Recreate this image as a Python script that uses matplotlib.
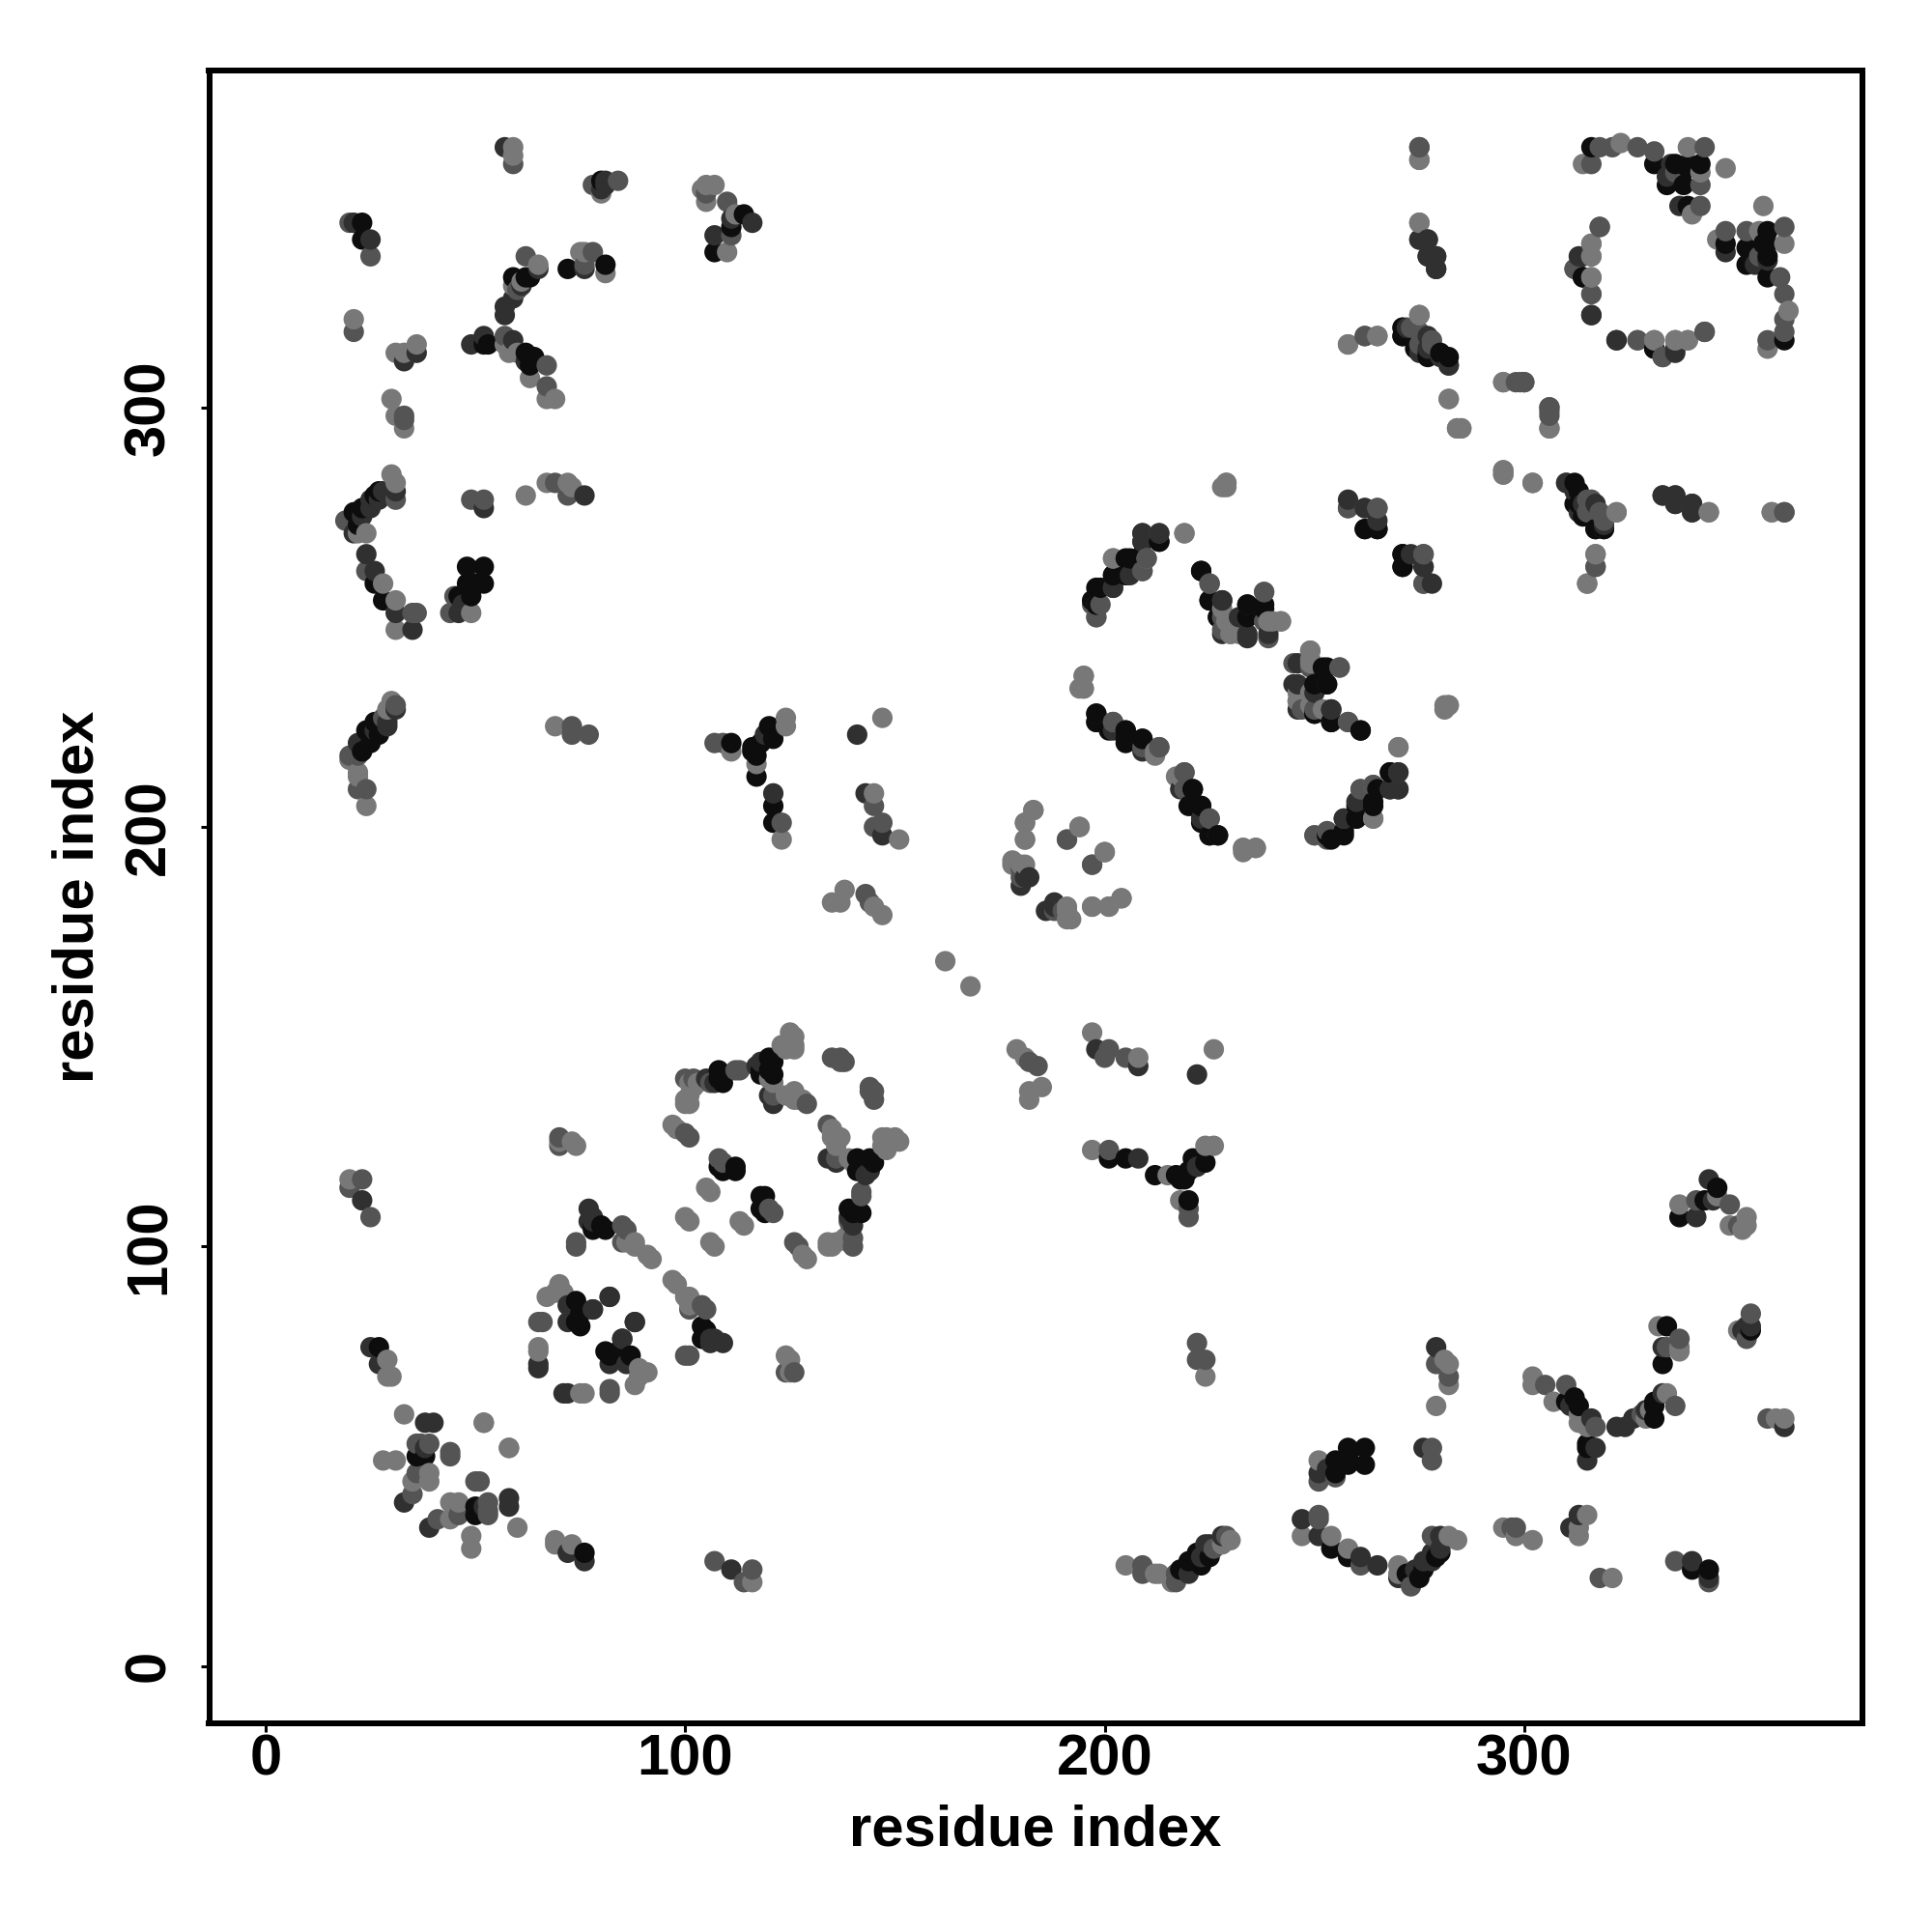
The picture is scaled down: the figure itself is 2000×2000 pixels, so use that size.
import numpy as np
import matplotlib
matplotlib.use("Agg")
import matplotlib.pyplot as plt

# residue contacts (i < j), grouped by grey shade; the map is symmetric
light_pairs = [(59,362),(59,360),(80,351),(105,353),(107,353),(104,352),(105,349),(112,346),(110,337),(21,321),(31,313),(33,313),(36,315),
 (57,315),(58,313),(60,313),(63,307),(67,302),(69,302),(65,334),(59,329),(61,330),(75,337),(76,337),(81,332),(30,302),(31,298),(33,295),
 (30,284),(31,282),(24,270),(22,270),(28,258),(31,254),(31,247),(49,251),(62,279),(67,282),(72,282),(73,281),(30,230),(29,228),(20,216),
 (22,213),(22,212),(24,205),(69,224),(111,218),(124,226),(124,224),(117,215),(123,197),(147,226),(145,208),(151,197),
 (323,363),(339,362),(348,357),(314,358),(342,356),(340,346),(316,339),(316,336),(316,331),(327,316),(331,316),(336,316),(339,316),
 (275,359),(275,344),(275,322),(258,315),(265,317),(282,302),(284,295),(285,295),(295,306),(306,295),(295,284),(295,285),(302,282),
 (322,275),(317,265),(315,258),(344,275),(359,275),(219,270),(229,281),(229,282),(202,264),(198,250),(238,256),(230,246),(229,249),
 (232,249),(239,249),(242,249),(249,242),(249,240),(246,232),(246,230),(252,228),(270,219),(282,229),(281,228),(195,236),(195,233),
 (212,217),(218,212),(233,194),(236,195),(233,195),(264,202),(264,210),(183,204),(181,201),(181,197),(194,200),(200,194),(197,191),
 (178,191),(181,191),(192,178),(191,180),(197,181),(201,181),(204,183),(135,182),(137,182),(138,185),(145,181),(147,179),(162,168),
 (126,150),(124,147),(126,147),(121,139),(103,139),(101,139),(101,136),(101,134),(98,128),(125,136),(127,135),(74,124),(135,128),(135,126),
 (137,126),(136,124),(148,126),(151,125),(148,123),(140,120),(106,113),(101,106),(114,105),(107,100),(129,97),(138,102),(135,100),(134,100),
 (86,101),(88,100),(92,97),(98,91),(101,88),(125,73),(125,70),(70,91),(67,88),(69,89),(71,89),(65,75),(65,76),(29,73),(29,69),(30,69),
 (33,60),(52,58),(58,52),(28,49),(31,49),(39,46),(35,44),(39,44),(20,116)]
mid_pairs = [(59,358),(78,353),(84,354),(110,349),(111,341),(105,351),(20,344),(25,336),(21,318),(57,317),(67,310),(67,305),(62,336),
 (60,328),(78,337),(76,334),(33,298),(33,297),(31,278),(19,273),(24,261),(35,251),(36,251),(45,255),(44,251),(49,278),(52,278),(69,282),
 (72,279),(31,229),(28,226),(20,217),(22,217),(22,209),(24,209),(73,224),(73,222),(77,222),(107,220),(109,220),(123,201),(145,205),
 (145,200),(147,201),(318,362),(321,362),(327,362),(331,361),(343,362),(316,358),(342,353),(342,348),(336,356),(318,343),(312,333),
 (316,327),(333,312),(343,318),(275,362),(262,317),(275,318),(275,315),(278,315),(299,306),(300,306),(306,300),(306,298),(310,282),
 (316,278),(319,273),(317,262),(340,275),(362,275),(258,276),(265,276),(276,265),(276,262),(276,258),(210,264),(209,261),(197,253),
 (199,253),(225,258),(228,250),(239,245),(256,238),(249,238),(247,228),(258,225),(202,225),(213,219),(219,213),(219,209),(225,202),
 (250,198),(257,202),(261,209),(270,213),(191,197),(180,188),(190,180),(143,184),(144,182),(101,126),(137,144),(138,144),(145,137),
 (145,135),(70,124),(109,120),(121,108),(127,100),(142,112),(140,102),(140,100),(121,136),(113,142),(106,139),(129,134),(101,85),(105,85),
 (101,74),(126,70),(65,82),(66,82),(36,53),(39,53),(44,50),(36,46),(35,41),(51,44),(23,116),(20,114),(25,107),(74,100),(86,104),(37,53)]
dark_pairs = [(57,362),(81,354),(80,352),(81,353),(107,341),(116,344),(111,345),(21,344),(25,340),(33,311),(36,313),(49,315),(52,317),
 (59,316),(62,311),(57,322),(57,324),(59,326),(61,329),(65,333),(76,333),(31,280),(28,280),(25,278),(27,278),(25,276),(23,274),(21,270),
 (24,265),(26,261),(31,251),(35,247),(46,251),(47,253),(52,276),(76,279),(29,225),(22,220),(26,223),(31,228),(29,224),(119,222),(117,143),
 (121,134),(141,222),(121,208),(143,208),(147,198),(335,358),(337,348),(334,355),(313,336),(316,322),(322,316),(336,314),(275,340),(277,340),
 (277,336),(279,336),(279,333),(271,319),(272,319),(277,317),(275,313),(282,310),(312,280),(314,277),(333,279),(336,279),(336,277),
 (340,277),(258,278),(262,276),(265,273),(213,270),(209,270),(209,268),(206,260),(202,257),(198,253),(228,254),(234,253),(228,246),
 (234,245),(246,239),(250,234),(246,234),(250,232),(254,228),(198,225),(202,223),(209,218),(227,198),(270,209),(268,209),(182,188),
 (180,186),(188,181),(136,120),(144,118),(140,105),(78,107),(78,106),(25,76),(27,72),(23,111),(38,58),(40,58),(33,39),(38,52),(107,139),
 (82,88),(72,86),(72,82),(78,85),(65,72),(65,71),(85,78),(88,82),(106,77),(109,77)]
black_pairs = [(80,354),(114,346),(111,343),(107,337),(23,344),(23,340),(52,315),(53,315),(62,313),(64,312),(63,310),(59,331),(62,331),
 (63,331),(72,333),(81,334),(27,280),(26,279),(23,276),(21,275),(22,272),(26,258),(28,254),(48,262),(52,262),(48,258),(52,258),(50,258),
 (49,255),(46,255),(26,225),(27,222),(24,223),(25,220),(23,218),(111,220),(116,219),(116,218),(117,217),(121,221),(120,224),(118,220),
 (117,212),(121,205),(121,201),(316,362),(331,358),(339,358),(342,358),(334,353),(338,353),(339,348),(339,357),(336,358),(314,331),(331,314),
 (271,317),(277,313),(280,313),(312,282),(312,277),(314,274),(319,271),(317,271),(262,271),(265,271),(271,265),(271,262),(223,261),(225,254),
 (227,250),(238,252),(234,250),(253,238),(253,234),(250,227),(254,225),(261,223),(198,227),(205,223),(205,220),(209,221),(221,209),(221,205),
 (223,205),(223,201),(225,198),(253,198),(254,197),(257,198),(260,205),(260,202),(264,205),(265,209),(268,213),(206,264),(202,260),(213,268),
 (199,257),(121,144),(121,141),(118,141),(109,141),(109,139),(142,120),(145,120),(142,118),(109,118),(112,118),(119,112),(119,108),(140,108),
 (142,108),(78,104),(81,104),(105,80),(105,78),(74,87),(75,84),(75,81),(27,76),(38,50),(36,50),(74,82)]
shade_levels = [0.47, 0.33, 0.19, 0.05]
tick_values = [0, 100, 200, 300]

x, y, c = [], [], []
for pairs, level in zip([light_pairs, mid_pairs, dark_pairs, black_pairs], shade_levels):
    for i, j in pairs:
        x += [i, j]; y += [j, i]; c += [level, level]
x, y, c = np.array(x), np.array(y), np.array(c)
order = np.lexsort((y, x))

plt.rcParams['font.family'] = ['Liberation Sans', 'DejaVu Sans']
fig = plt.figure(figsize=(10, 10), dpi=200)
ax = fig.add_axes([216.5/2000, 1 - 1784/2000, 1711/2000, 1711.5/2000])
ax.scatter(x[order], y[order], s=58, c=[str(v) for v in c[order]], linewidths=0)
ax.set_xlim(-13.47, 380.5)
ax.set_ylim(-13.65, 380.4)
ax.set_xticks(tick_values)
ax.set_yticks(tick_values)
ax.tick_params(length=3.2, width=1.1)
ax.tick_params(axis='x', labelsize=21.5, pad=0.6)
ax.tick_params(axis='y', labelsize=21.5, pad=9)
for t in ax.get_xticklabels() + ax.get_yticklabels():
    t.set_fontweight('bold')
for t in ax.get_yticklabels():
    t.set_rotation(90); t.set_va('center')
for s in ax.spines.values():
    s.set_linewidth(2.16)
ax.set_xlabel('residue index', fontsize=21.5, fontweight='bold', labelpad=6.5)
ax.set_ylabel('residue index', fontsize=21.5, fontweight='bold', labelpad=7)
fig.savefig('out.png', dpi=200)
